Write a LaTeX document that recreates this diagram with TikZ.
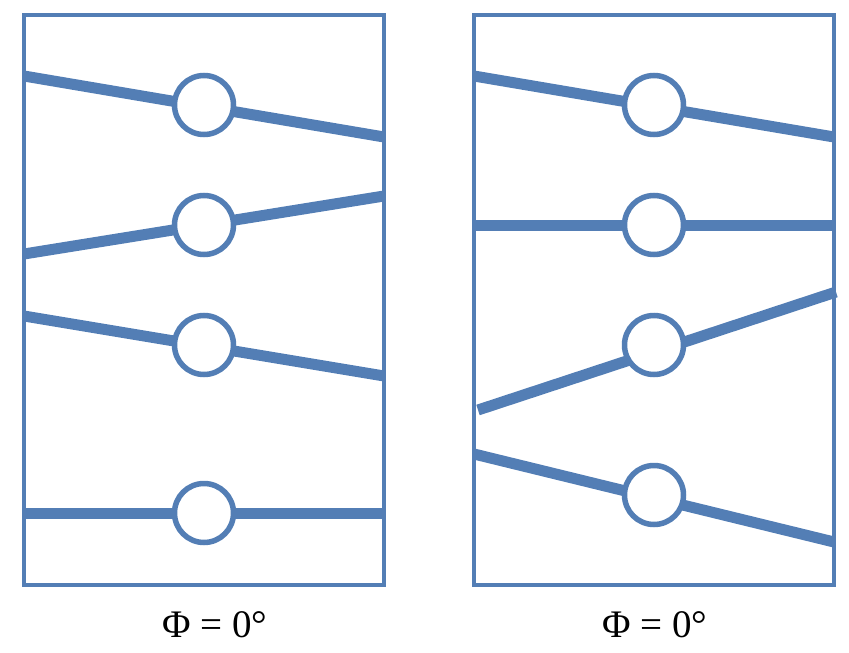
\documentclass[tikz,border=0pt]{standalone}
\usepackage{fontspec}
\setmainfont{Liberation Serif}
\usepackage{tikz}
\usetikzlibrary{positioning}
\definecolor{panelblue}{RGB}{83,126,181}

\begin{document}
\begin{tikzpicture}[x=1pt,y=-1pt,frame/.style={draw=panelblue,line width=4.5pt},rod/.style={panelblue,line width=11pt},
  pivot/.style={circle,draw=panelblue,fill=white,line width=5.5pt,minimum size=59pt,inner sep=0pt},lab/.style={font=\fontsize{39}{44}\selectfont}]
\useasboundingbox (0,0) rectangle (849,653);
% left panel
\draw[frame] (24,15) rectangle (384,585);
\coordinate (la1) at (24,76); \coordinate (lb1) at (384,137);
\coordinate (la2) at (24,254); \coordinate (lb2) at (384,196);
\coordinate (la3) at (24,316); \coordinate (lb3) at (384,376);
\coordinate (la4) at (24,513); \coordinate (lb4) at (384,513);
\foreach \i in {1,...,4} \draw[rod] (la\i) -- (lb\i);
\node[pivot] (lp1) at (204,105) {}; \node[pivot] (lp2) at (204,225) {};
\node[pivot] (lp3) at (204,345) {}; \node[pivot] (lp4) at (204,513) {};
\node[lab] (phiL) at (215,625) {Φ = 0°};
% right panel
\draw[frame] (474,15) rectangle (834,585);
\coordinate (ra1) at (474,76); \coordinate (rb1) at (834,137);
\coordinate (ra2) at (474,225); \coordinate (rb2) at (834,225);
\coordinate (ra3) at (478,410); \coordinate (rb3) at (836,292);
\coordinate (ra4) at (474,454); \coordinate (rb4) at (834,542);
\foreach \i in {1,...,4} \draw[rod] (ra\i) -- (rb\i);
\node[pivot] (rp1) at (654,105) {}; \node[pivot] (rp2) at (654,225) {};
\node[pivot] (rp3) at (654,345) {}; \node[pivot] (rp4) at (654,495) {};
\node[lab] (phiR) at (655,625) {Φ = 0°};
\end{tikzpicture}
\end{document}
